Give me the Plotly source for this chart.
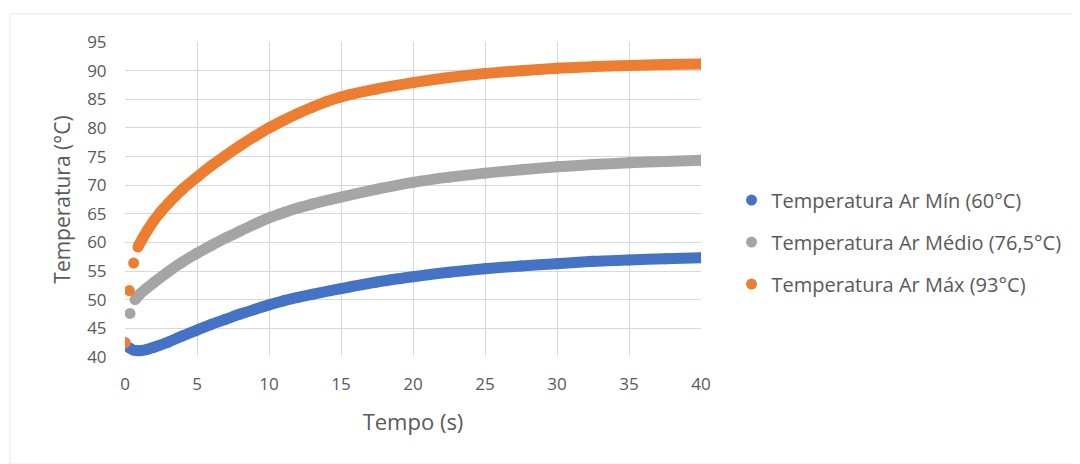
import plotly.graph_objects as go

# ---- data ----
series_names = ["Temperatura Ar Mín (60°C)", "Temperatura Ar Médio (76,5°C)", "Temperatura Ar Máx (93°C)"]
colors = ["#4472C4", "#A5A5A5", "#ED7D31"]

# early (separate) samples
min_t_early = [0.0]
min_v_early = [42.5]
med_t_early = [0.0, 0.35]
med_v_early = [42.5, 47.6]
max_t_early = [0.0, 0.3, 0.6]
max_v_early = [42.5, 51.6, 56.4]

# continuous part
min_t = [0.3, 0.6, 0.9, 1.5, 2, 3, 4, 5, 6, 7, 8, 9, 10, 11, 12, 13, 15, 17.5, 20, 22.5, 25, 27.5, 30, 32.5, 35, 37.5, 40]
min_v = [41.6, 41.2, 41.1, 41.3, 41.7, 42.6, 43.7, 44.7, 45.7, 46.6, 47.5, 48.3, 49.1, 49.8, 50.4, 50.95, 51.95, 53.1, 54.0, 54.8, 55.4, 55.9, 56.3, 56.7, 56.95, 57.15, 57.35]

med_t = [0.7, 1, 1.5, 2, 3, 4, 5, 6, 7, 8, 9, 10, 11, 12, 13, 15, 17.5, 20, 22.5, 25, 27.5, 30, 32.5, 35, 37.5, 40]
med_v = [50.0, 50.9, 52.0, 53.0, 54.9, 56.6, 58.1, 59.5, 60.8, 62.0, 63.2, 64.3, 65.2, 66.0, 66.7, 67.9, 69.3, 70.5, 71.4, 72.1, 72.7, 73.2, 73.6, 73.9, 74.15, 74.35]

max_t = [0.9, 1.2, 1.6, 2, 2.5, 3, 4, 5, 6, 7, 8, 9, 10, 11, 12, 13, 14, 15, 17.5, 20, 22.5, 25, 27.5, 30, 32.5, 35, 37.5, 40]
max_v = [59.2, 60.6, 62.3, 63.8, 65.4, 66.8, 69.3, 71.4, 73.4, 75.2, 76.9, 78.5, 80.0, 81.3, 82.5, 83.6, 84.6, 85.4, 86.8, 87.9, 88.8, 89.5, 90.0, 90.4, 90.7, 90.9, 91.05, 91.15]

x_ticks = [0, 5, 10, 15, 20, 25, 30, 35, 40]
y_ticks = [40, 45, 50, 55, 60, 65, 70, 75, 80, 85, 90, 95]

early = [(min_t_early, min_v_early), (med_t_early, med_v_early), (max_t_early, max_v_early)]
main = [(min_t, min_v), (med_t, med_v), (max_t, max_v)]

SZ = 11
fig = go.Figure()
for i in range(3):
    fig.add_trace(go.Scatter(
        x=main[i][0], y=main[i][1], mode="lines+markers",
        line=dict(color=colors[i], width=SZ, shape="spline", smoothing=0.8),
        marker=dict(color=colors[i], size=SZ),
        name=series_names[i], legendgroup=f"g{i}", showlegend=False))
    fig.add_trace(go.Scatter(
        x=early[i][0], y=early[i][1], mode="markers",
        marker=dict(color=colors[i], size=SZ),
        name=series_names[i], legendgroup=f"g{i}", showlegend=True))

font = "Open Sans"
fig.update_layout(
    width=1072, height=456,
    margin=dict(l=117, r=379, t=34, b=107, autoexpand=False),
    paper_bgcolor="white", plot_bgcolor="white",
    font=dict(family=font, color="#595959"),
    showlegend=True,
    legend=dict(x=1.053, xanchor="left", y=0.365, yanchor="middle",
                font=dict(size=20, color="#595959", family=font),
                tracegroupgap=13, bgcolor="rgba(0,0,0,0)", itemwidth=30),
    xaxis=dict(range=[0, 40], tickvals=x_ticks, showgrid=True, gridcolor="#D9D9D9",
               gridwidth=1, zeroline=False, showline=False, automargin=False,
               tickfont=dict(size=17, color="#595959"), ticks="outside", ticklen=12,
               tickcolor="rgba(0,0,0,0)",
               title=dict(text="Tempo (s)", font=dict(size=22, color="#595959"), standoff=20)),
    yaxis=dict(range=[40, 95], tickvals=y_ticks, showgrid=True, gridcolor="#D9D9D9",
               gridwidth=1, zeroline=False, showline=False, automargin=False,
               tickfont=dict(size=17, color="#595959"), ticks="outside", ticklen=14,
               tickcolor="rgba(0,0,0,0)",
               title=dict(text="Temperatura (°C)", font=dict(size=21, color="#595959"), standoff=10)),
)
# faint chart border
fig.add_shape(type="rect", xref="paper", yref="paper",
              x0=-0.1997, x1=1.70, y0=-0.34, y1=1.089,
              line=dict(color="#E6E6E6", width=1), fillcolor="rgba(0,0,0,0)", layer="below")

fig.write_html("out.html")
